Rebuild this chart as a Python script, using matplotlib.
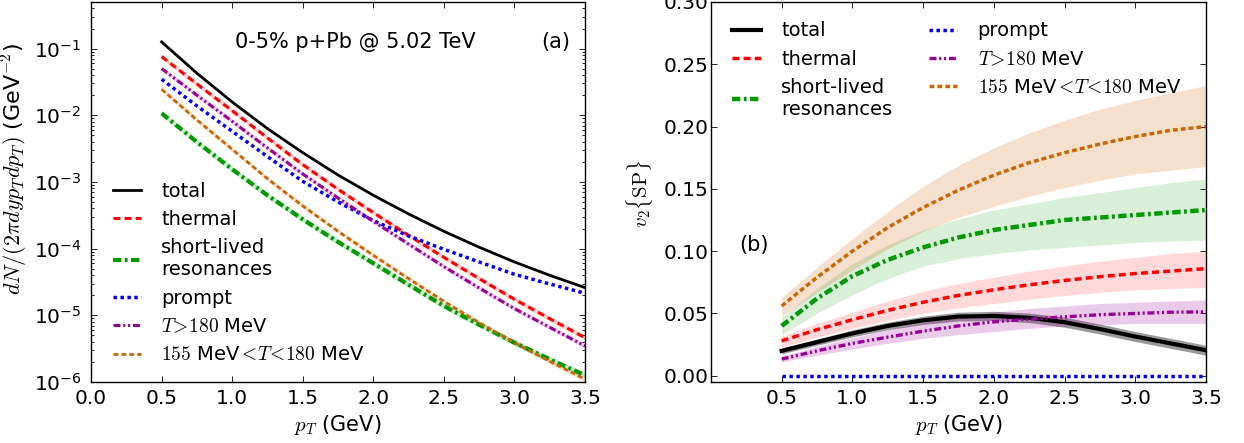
import numpy as np
import matplotlib
matplotlib.use("Agg")
import matplotlib.pyplot as plt

# transverse momentum grid (GeV)
PT = [0.5, 0.75, 1.0, 1.25, 1.5, 1.75, 2.0, 2.25, 2.5, 2.75, 3.0, 3.25, 3.5]

# (a) spectra dN/(2 pi dy pT dpT) in GeV^-2
SPEC_TOTAL = [1.26e-1, 4.27e-2, 1.58e-2, 6.31e-3, 2.75e-3, 1.27e-3, 6.31e-4,
              3.31e-4, 1.82e-4, 1.05e-4, 6.31e-5, 3.98e-5, 2.60e-5]
SPEC_THERMAL = [7.59e-2, 2.95e-2, 1.17e-2, 4.57e-3, 1.82e-3, 7.76e-4, 3.47e-4,
                1.58e-4, 7.41e-5, 3.55e-5, 1.74e-5, 8.91e-6, 4.62e-6]
SPEC_RESON = [1.07e-2, 3.98e-3, 1.55e-3, 6.31e-4, 2.75e-4, 1.26e-4, 6.03e-5,
              2.88e-5, 1.38e-5, 7.24e-6, 3.89e-6, 2.19e-6, 1.26e-6]
SPEC_PROMPT = [3.47e-2, 1.38e-2, 5.75e-3, 2.40e-3, 1.02e-3, 5.01e-4, 2.63e-4,
               1.55e-4, 9.77e-5, 6.31e-5, 4.12e-5, 2.95e-5, 2.14e-5]
SPEC_HIGH_T = [5.01e-2, 2.00e-2, 8.13e-3, 3.24e-3, 1.32e-3, 5.75e-4, 2.57e-4,
               1.17e-4, 5.37e-5, 2.57e-5, 1.26e-5, 6.61e-6, 3.47e-6]
SPEC_MID_T = [2.45e-2, 8.51e-3, 3.09e-3, 1.12e-3, 4.37e-4, 1.82e-4, 7.94e-5,
              3.55e-5, 1.62e-5, 7.76e-6, 3.89e-6, 2.04e-6, 1.10e-6]
# relative half width of the thin bands in (a)
SPEC_REL_ERR = [0.0, 0.08, 0.10, 0.0, 0.08, 0.08]

# (b) v2{SP}: central value, lower and upper edge of band
V2_TOTAL = [0.020, 0.027, 0.034, 0.040, 0.0445, 0.0475, 0.048, 0.0465, 0.043, 0.0375, 0.0315, 0.026, 0.0205]
V2_TOTAL_LO = [0.0177, 0.0245, 0.0312, 0.037, 0.0412, 0.044, 0.0443, 0.0427, 0.039, 0.0335, 0.0275, 0.022, 0.0165]
V2_TOTAL_HI = [0.0223, 0.0295, 0.0368, 0.043, 0.0478, 0.051, 0.0517, 0.0503, 0.047, 0.0415, 0.0355, 0.030, 0.0245]

V2_THERMAL = [0.028, 0.037, 0.045, 0.0525, 0.059, 0.0645, 0.069, 0.073, 0.0765, 0.0795, 0.082, 0.084, 0.086]
V2_THERMAL_LO = [0.023, 0.031, 0.038, 0.0445, 0.050, 0.0545, 0.058, 0.0615, 0.0645, 0.067, 0.069, 0.070, 0.071]
V2_THERMAL_HI = [0.032, 0.042, 0.051, 0.060, 0.068, 0.074, 0.079, 0.084, 0.088, 0.092, 0.095, 0.098, 0.100]

V2_RESON = [0.040, 0.062, 0.080, 0.093, 0.103, 0.111, 0.117, 0.121, 0.125, 0.127, 0.129, 0.131, 0.133]
V2_RESON_LO = [0.033, 0.050, 0.065, 0.078, 0.088, 0.094, 0.098, 0.101, 0.103, 0.105, 0.107, 0.108, 0.109]
V2_RESON_HI = [0.047, 0.070, 0.090, 0.105, 0.117, 0.126, 0.133, 0.138, 0.143, 0.147, 0.151, 0.155, 0.158]

V2_PROMPT = [0.0] * 13

V2_HIGH_T = [0.0134, 0.020, 0.026, 0.031, 0.0358, 0.040, 0.0433, 0.0455, 0.0473, 0.049, 0.050, 0.051, 0.0513]
V2_HIGH_T_LO = [0.0112, 0.0165, 0.0215, 0.026, 0.030, 0.033, 0.0355, 0.038, 0.040, 0.041, 0.042, 0.042, 0.042]
V2_HIGH_T_HI = [0.0158, 0.0235, 0.0305, 0.037, 0.0425, 0.047, 0.051, 0.054, 0.056, 0.058, 0.059, 0.060, 0.0607]

V2_MID_T = [0.056, 0.079, 0.100, 0.119, 0.135, 0.149, 0.161, 0.171, 0.179, 0.186, 0.192, 0.197, 0.200]
V2_MID_T_LO = [0.048, 0.067, 0.085, 0.102, 0.116, 0.127, 0.136, 0.144, 0.151, 0.157, 0.162, 0.165, 0.168]
V2_MID_T_HI = [0.063, 0.087, 0.110, 0.132, 0.152, 0.169, 0.183, 0.195, 0.205, 0.214, 0.221, 0.227, 0.233]

LABELS = ["total", "thermal", "short-lived\nresonances", "prompt",
          r"$T\!>\!180$ MeV", r"$155$ MeV$<\!T\!<\!180$ MeV"]
COLORS = ["k", "r", "#009900", "b", "#990099", "#cc6600"]
DASHES = [None, (5, 3), (6, 2.5, 2, 2.5), (2.5, 2.5), (5, 2, 1.5, 2, 1.5, 2), (3.5, 2.2)]
LW_A = [2.0, 2.2, 3.0, 2.5, 2.2, 2.0]
LW_B = [3.0, 2.5, 3.2, 2.5, 2.4, 2.5]
BAND_ALPHA = [0.4, 0.15, 0.15, 0.0, 0.2, 0.2]
FS_TICK = 14.5
FS_LEG = 14
FS_TEXT = 15

plt.rcParams.update({
    "font.family": "DejaVu Sans",
    "font.size": FS_TICK,
    "mathtext.fontset": "dejavusans",
    "lines.scale_dashes": False,
    "xtick.direction": "in",
    "ytick.direction": "in",
    "xtick.top": True,
    "ytick.right": True,
    "xtick.major.size": 4,
    "ytick.major.size": 4,
    "xtick.minor.size": 2,
    "ytick.minor.size": 2,
    "xtick.major.width": 0.6,
    "ytick.major.width": 0.6,
    "axes.linewidth": 1.0,
})


def draw_line(ax, x, y, i, lw):
    line, = ax.plot(x, y, color=COLORS[i], lw=lw, label=LABELS[i])
    if DASHES[i] is not None:
        line.set_dashes(DASHES[i])
    return line


def make_legend(ax, **kw):
    leg = ax.legend(frameon=False, fontsize=FS_LEG, handlelength=1.45,
                    handletextpad=1.05, labelspacing=0.48, **kw)
    for t in leg.get_texts():
        t.set_math_fontfamily("cm")
    return leg


def main():
    fig = plt.figure(figsize=(12.44, 4.43), dpi=100)
    ax1 = fig.add_axes([0.0732, 0.1377, 0.3971, 0.8578])
    ax2 = fig.add_axes([0.5715, 0.1377, 0.3979, 0.8578])

    # panel (a)
    spectra = [SPEC_TOTAL, SPEC_THERMAL, SPEC_RESON, SPEC_PROMPT, SPEC_HIGH_T, SPEC_MID_T]
    for i, y in enumerate(spectra):
        y = np.array(y)
        if SPEC_REL_ERR[i] > 0:
            ax1.fill_between(PT, y / (1 + SPEC_REL_ERR[i]), y * (1 + SPEC_REL_ERR[i]),
                             color=COLORS[i], alpha=0.2, lw=0)
        draw_line(ax1, PT, y, i, LW_A[i])
    ax1.set_yscale("log")
    ax1.set_xlim(0, 3.5)
    ax1.set_ylim(1e-6, 0.5)
    ax1.set_xticks(np.arange(0, 3.51, 0.5))
    ax1.tick_params(axis="y", which="major", pad=7)
    ax1.tick_params(axis="x", pad=5)
    ax1.set_xlabel(r"$p_T$ (GeV)", math_fontfamily="cm", fontsize=FS_TEXT)
    ax1.set_ylabel(r"$dN/(2\pi dyp_Tdp_T)$ (GeV$^{-2}$)", math_fontfamily="cm",
                   fontsize=16)
    ax1.yaxis.set_label_coords(-0.124, 0.56)
    ax1.text(0.535, 0.895, "0-5% p+Pb @ 5.02 TeV", transform=ax1.transAxes,
             ha="center", va="center", fontsize=FS_TEXT)
    ax1.text(0.94, 0.895, "(a)", transform=ax1.transAxes,
             ha="center", va="center", fontsize=FS_TEXT)
    make_legend(ax1, loc="lower left", bbox_to_anchor=(0.008, 0.0))

    # panel (b)
    v2 = [V2_TOTAL, V2_THERMAL, V2_RESON, V2_PROMPT, V2_HIGH_T, V2_MID_T]
    lows = [V2_TOTAL_LO, V2_THERMAL_LO, V2_RESON_LO, None, V2_HIGH_T_LO, V2_MID_T_LO]
    highs = [V2_TOTAL_HI, V2_THERMAL_HI, V2_RESON_HI, None, V2_HIGH_T_HI, V2_MID_T_HI]
    for i, y in enumerate(v2):
        if lows[i] is not None:
            ax2.fill_between(PT, lows[i], highs[i], color=COLORS[i],
                             alpha=BAND_ALPHA[i], lw=0)
    for i, y in enumerate(v2):
        draw_line(ax2, PT, y, i, LW_B[i])
    ax2.set_xlim(0, 3.5)
    ax2.set_ylim(-0.005, 0.30)
    ax2.set_xticks(np.arange(0.5, 3.51, 0.5))
    ax2.set_yticks(np.arange(0, 0.301, 0.05))
    ax2.yaxis.set_major_formatter(matplotlib.ticker.FormatStrFormatter("%.2f"))
    ax2.tick_params(axis="y", pad=2)
    ax2.tick_params(axis="x", pad=5)
    ax2.set_xlabel(r"$p_T$ (GeV)", math_fontfamily="cm", fontsize=FS_TEXT)
    ax2.set_ylabel(r"$v_2\{\mathrm{SP}\}$", math_fontfamily="cm", fontsize=FS_TEXT)
    ax2.yaxis.set_label_coords(-0.113, 0.495)
    ax2.text(0.087, 0.36, "(b)", transform=ax2.transAxes,
             ha="center", va="center", fontsize=FS_TEXT)
    make_legend(ax2, loc="upper left", bbox_to_anchor=(0.008, 0.995), ncol=2,
                columnspacing=1.9)

    fig.savefig("out.png", dpi=100, facecolor="white")


if __name__ == "__main__":
    main()
